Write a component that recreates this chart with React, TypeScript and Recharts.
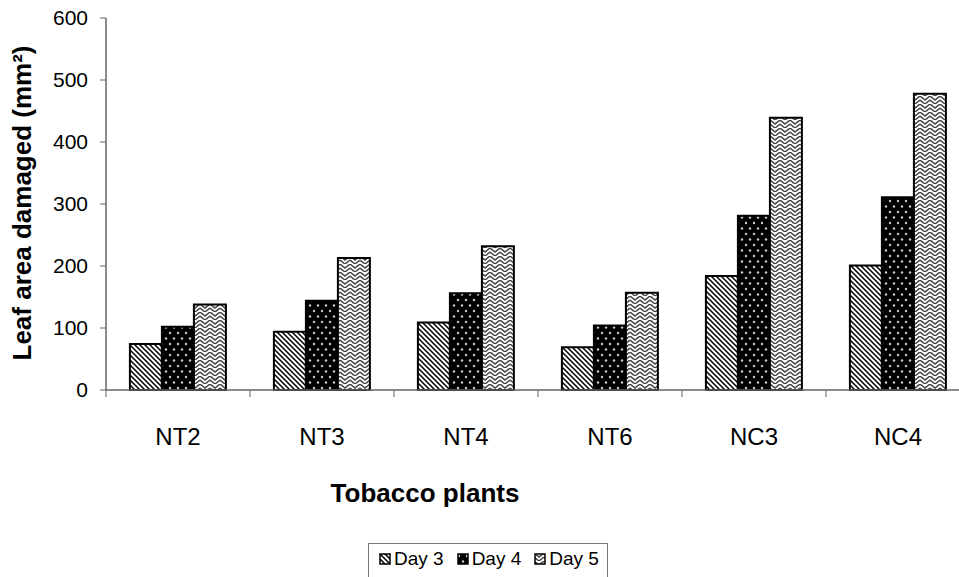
import { Bar, BarChart, Legend, XAxis, YAxis } from 'recharts';

const plants = ['NT2', 'NT3', 'NT4', 'NT6', 'NC3', 'NC4'];
const day3 = [74, 94, 109, 69, 184, 201];
const day4 = [102, 144, 156, 104, 281, 311];
const day5 = [138, 213, 232, 157, 439, 478];
const yTicks = [0, 100, 200, 300, 400, 500, 600];

const series = [
  { key: 'day3', name: 'Day 3', fill: 'url(#pat-day3)' },
  { key: 'day4', name: 'Day 4', fill: 'url(#pat-day4)' },
  { key: 'day5', name: 'Day 5', fill: 'url(#pat-day5)' },
];

const data = plants.map((name, i) => ({ name, day3: day3[i], day4: day4[i], day5: day5[i] }));

const FONT = 'Arial, "Liberation Sans", sans-serif';
const AXIS = '#666';

// category label plus an Excel-style tick mark on the left edge of each band
function CategoryTick(props: any) {
  const { x, y, payload, width, visibleTicksCount } = props;
  const band = width && visibleTicksCount ? width / visibleTicksCount : 144;
  const edge = x - band / 2;
  return (
    <g>
      <line x1={edge} y1={y} x2={edge} y2={y + 7} stroke={AXIS} />
      <text x={x} y={y + 55} textAnchor="middle" fontFamily={FONT} fontSize={24} fill="#000">
        {payload.value}
      </text>
    </g>
  );
}

function YTitle() {
  return (
    <text
      x={31}
      y={203}
      transform="rotate(-90, 31, 203)"
      textAnchor="middle"
      fontFamily={FONT}
      fontSize={26}
      fontWeight="bold"
      fill="#000"
    >
      Leaf area damaged (mm²)
    </text>
  );
}

function XTitle() {
  return (
    <text x={425} y={502} textAnchor="middle" fontFamily={FONT} fontSize={26} fontWeight="bold" fill="#000">
      Tobacco plants
    </text>
  );
}

function LegendBox() {
  return (
    <div
      style={{
        display: 'inline-flex',
        alignItems: 'center',
        border: '1px solid #777',
        background: '#fff',
        padding: '4px 8px 8px 10px',
        fontFamily: FONT,
        fontSize: 19,
        color: '#000',
        whiteSpace: 'nowrap',
      }}
    >
      {series.map((s, i) => (
        <span
          key={s.key}
          style={{ display: 'inline-flex', alignItems: 'center', marginRight: i < series.length - 1 ? 13 : 0 }}
        >
          <svg width={12} height={12} style={{ marginRight: 3 }}>
            <rect x={1} y={1} width={10} height={10} fill={s.fill} stroke="#000" strokeWidth={1.5} />
          </svg>
          {s.name}
        </span>
      ))}
    </div>
  );
}

export default function App() {
  return (
    <div style={{ position: 'fixed', left: 0, top: 0, width: 959, height: 577, overflow: 'hidden', background: '#fff' }}>
      <BarChart
        width={970}
        height={577}
        data={data}
        margin={{ top: 18, right: 0, bottom: 0, left: 0 }}
        barCategoryGap="16.6%"
        barGap={0}
      >
        <defs>
          <pattern id="pat-day3" width={5} height={5} patternUnits="userSpaceOnUse">
            <rect width={5} height={5} fill="#fff" />
            <path d="M-1,-1 L6,6 M-1,4 L1,6 M4,-1 L6,1" stroke="#000" strokeWidth={1.5} />
          </pattern>
          <pattern id="pat-day4" width={8} height={11} patternUnits="userSpaceOnUse">
            <rect width={8} height={11} fill="#000" />
            <circle cx={2} cy={3} r={1.2} fill="#ccc" />
            <circle cx={6} cy={8.5} r={1.2} fill="#ccc" />
          </pattern>
          <pattern id="pat-day5" width={10} height={8} patternUnits="userSpaceOnUse">
            <rect width={10} height={8} fill="#fff" />
            <path d="M0,0 L5,4 L10,0 M0,4 L5,8 L10,4" stroke="#444" strokeWidth={1.5} fill="none" />
          </pattern>
        </defs>
        <XAxis
          dataKey="name"
          height={187}
          interval={0}
          axisLine={{ stroke: AXIS, strokeWidth: 1.5 }}
          tickLine={false}
          tickSize={0}
          tickMargin={0}
          tick={<CategoryTick />}
          label={<XTitle />}
        />
        <YAxis
          width={106}
          domain={[0, 600]}
          ticks={yTicks}
          interval={0}
          axisLine={{ stroke: AXIS, strokeWidth: 1.5 }}
          tickLine={{ stroke: AXIS }}
          tickSize={6}
          tickMargin={12}
          tick={{ fontFamily: FONT, fontSize: 21, fill: '#000' }}
          label={<YTitle />}
        />
        <Legend
          content={<LegendBox />}
          wrapperStyle={{ position: 'absolute', left: 368, top: 543, width: 'auto', height: 0, bottom: 'auto' }}
        />
        {series.map((s) => (
          <Bar
            key={s.key}
            dataKey={s.key}
            name={s.name}
            fill={s.fill}
            stroke="#000"
            strokeWidth={2}
            isAnimationActive={false}
          />
        ))}
      </BarChart>
    </div>
  );
}
